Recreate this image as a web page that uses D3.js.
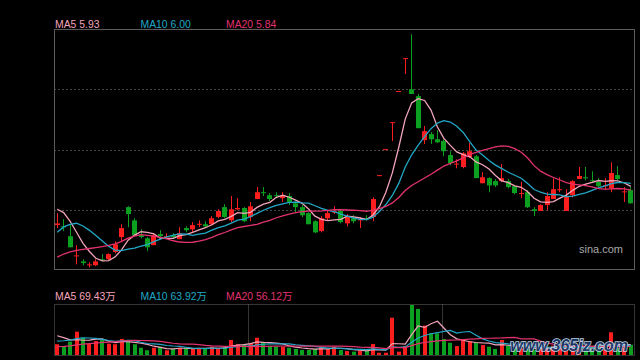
<!DOCTYPE html>
<html>
<head>
<meta charset="utf-8">
<script src="https://cdn.jsdelivr.net/npm/d3@7/dist/d3.min.js"></script>
<style>
body { margin: 0; background: #000; }
svg { display: block; font-family: "Liberation Sans", Arial, "Noto Sans CJK SC", sans-serif; }
</style>
</head>
<body>
<svg id="kline_view" width="640" height="360"></svg>
<script>
// closes before the first visible day, only used for the moving averages
let prev_close = [3.48, 3.53, 3.58, 3.63, 3.67, 3.72, 3.77, 3.77, 3.81, 3.77,
	3.72, 3.91, 4.02, 4.77, 5.10, 5.36, 5.50, 5.59, 5.41];

let open_px = [5.01, 4.98, 4.75, 4.28, 4.16, 4.07, 4.07, 4.21, 4.21, 4.38,
	4.73, 5.43, 5.12, 4.77, 4.70, 4.54, 4.80, 4.73, 4.77, 4.68,
	4.94, 4.91, 5.02, 5.03, 5.03, 5.20, 5.43, 5.12, 5.38, 5.41,
	5.20, 5.62, 5.78, 5.71, 5.71, 5.64, 5.69, 5.52, 5.43, 5.29,
	5.10, 4.87, 5.17, 5.30, 5.34, 5.05, 5.17, 5.12, 5.17, 5.20,
	6.18, 6.79, 7.42, 8.15, 8.92, 8.19, 8.03, 7.00, 7.14, 7.02,
	6.98, 6.65, 6.43, 6.37, 6.60, 6.62, 5.99, 6.11, 6.04, 6.04,
	6.04, 5.92, 5.74, 5.78, 5.38, 5.34, 5.48, 5.62, 5.83, 5.34,
	5.71, 6.09, 6.13, 6.06, 6.02, 5.92, 5.87, 6.18, 5.78, 5.83];

let high_px = [5.29, 5.15, 5.01, 4.54, 4.21, 4.14, 4.21, 4.33, 4.35, 4.63,
	5.03, 5.45, 5.17, 4.91, 4.73, 4.82, 4.89, 4.82, 4.82, 4.96,
	4.98, 5.08, 5.12, 5.10, 5.22, 5.38, 5.50, 5.69, 5.64, 5.43,
	5.55, 5.90, 5.90, 5.76, 5.78, 5.78, 5.76, 5.57, 5.48, 5.31,
	5.12, 5.22, 5.36, 5.45, 5.38, 5.27, 5.24, 5.20, 5.24, 5.66,
	6.18, 6.79, 7.42, 8.15, 8.92, 9.48, 8.08, 7.33, 7.19, 7.23,
	7.02, 6.74, 6.55, 6.72, 6.93, 6.65, 6.25, 6.13, 6.09, 6.44,
	6.09, 5.94, 6.02, 5.83, 5.43, 5.50, 5.78, 6.11, 6.13, 5.85,
	6.06, 6.37, 6.37, 6.27, 6.11, 6.11, 6.48, 6.39, 5.90, 5.90];

let low_px = [4.94, 4.87, 4.49, 4.09, 4.07, 4.02, 4.05, 4.16, 4.19, 4.35,
	4.63, 4.96, 4.77, 4.70, 4.40, 4.54, 4.73, 4.68, 4.70, 4.68,
	4.84, 4.84, 4.96, 4.96, 5.01, 5.17, 5.17, 5.08, 5.36, 5.08,
	5.10, 5.62, 5.69, 5.57, 5.64, 5.55, 5.48, 5.29, 5.20, 5.03,
	4.82, 4.84, 5.12, 5.27, 5.05, 4.98, 5.05, 4.94, 5.12, 5.10,
	6.18, 6.79, 6.98, 8.15, 8.55, 8.08, 7.28, 6.91, 6.91, 6.93,
	6.62, 6.41, 6.34, 6.34, 6.58, 6.11, 5.99, 5.78, 5.90, 6.02,
	5.87, 5.73, 5.64, 5.41, 5.22, 5.34, 5.36, 5.62, 5.78, 5.34,
	5.66, 6.09, 6.06, 6.02, 5.90, 5.83, 5.78, 6.06, 5.55, 5.52];

let close_px = [5.05, 4.96, 4.49, 4.30, 4.12, 4.09, 4.16, 4.19, 4.33, 4.56,
	4.94, 5.27, 4.77, 4.73, 4.49, 4.77, 4.75, 4.75, 4.73, 4.82,
	4.89, 5.01, 5.04, 4.98, 5.17, 5.34, 5.20, 5.38, 5.41, 5.10,
	5.45, 5.78, 5.76, 5.62, 5.69, 5.69, 5.55, 5.43, 5.24, 5.03,
	4.84, 5.17, 5.29, 5.33, 5.08, 5.22, 5.10, 5.15, 5.15, 5.62,
	6.18, 6.79, 7.42, 8.15, 8.92, 8.08, 7.28, 7.21, 7.02, 6.95,
	6.74, 6.46, 6.45, 6.69, 6.74, 6.11, 6.13, 5.94, 5.94, 6.11,
	5.90, 5.76, 5.76, 5.43, 5.34, 5.48, 5.69, 5.85, 5.85, 5.69,
	6.04, 6.16, 6.11, 6.04, 5.92, 5.94, 6.23, 6.09, 5.80, 5.52];

// volume in 万 shares
let prev_volume = [20, 18, 15, 18, 16, 20, 17, 19, 18, 19,
	40, 50, 55, 60, 80, 120, 160, 150, 134];

let volume = [71, 59, 88, 154, 114, 73, 92, 99, 75, 71,
	106, 92, 71, 48, 31, 48, 55, 31, 40, 48,
	48, 40, 44, 40, 55, 44, 55, 99, 71, 71,
	77, 114, 84, 61, 55, 55, 48, 40, 33, 33,
	40, 55, 40, 55, 33, 26, 22, 28, 28, 73,
	15, 15, 246, 22, 59, 330, 304, 194, 143, 143,
	106, 81, 59, 99, 92, 81, 66, 55, 40, 99,
	61, 48, 44, 40, 35, 40, 50, 62, 42, 61,
	62, 55, 50, 58, 67, 35, 150, 45, 50, 67];

let ma_periods = [5, 10, 20];
let ma_names = ['MA5', 'MA10', 'MA20'];
let ma_last = ['5.93', '6.00', '5.84'];
let vol_ma_last = ['69.43万', '63.92万', '56.12万'];
let vol_dividers = [30, 60];

let up_color = '#fa1e1e',
	down_color = '#0ca020',
	ma_colors = ['#f2a4ba', '#22a8c6', '#e2336f'],
	border_color = '#5c5c5c',
	grid_color = '#474747';

let main_box = {left: 54, right: 634, top: 29.5, bottom: 269.5};
let vol_box = {left: 54, right: 634, top: 304.5, bottom: 355.5};

function moving_average(values, prev, n) {
	let all = prev.concat(values);
	let off = prev.length;
	return values.map((v, i) => d3.mean(all.slice(off + i - n + 1, off + i + 1)));
}

function candle_color(i) {
	if (close_px[i] > open_px[i]) return up_color;
	if (close_px[i] < open_px[i]) return down_color;
	let pc = i > 0 ? close_px[i - 1] : prev_close[prev_close.length - 1];
	return close_px[i] >= pc ? up_color : down_color;
}

let view = d3.select('#kline_view');
let n = close_px.length;

let x = d3.scaleBand()
	.domain(d3.range(n))
	.range([main_box.left, main_box.right]);
let cx = i => x(i) + x.bandwidth() / 2;

let price_domain = [3.97, 9.59];
let y = d3.scaleLinear()
	.domain(price_domain)
	.range([main_box.bottom, main_box.top]);

let vol_y = d3.scaleLinear()
	.domain([0, d3.max(volume)])
	.range([vol_box.bottom - 0.5, vol_box.top + 0.5]);

view.append('rect')
	.attr('width', 640)
	.attr('height', 360)
	.attr('fill', '#000');

// price grid: quarters of the price range
let grid_vals = d3.range(1, 4).map(k => price_domain[0] + k * (price_domain[1] - price_domain[0]) / 4);
view.selectAll('.grid-line')
	.data(grid_vals)
	.enter().append('line')
	.attr('class', 'grid-line')
	.attr('x1', main_box.left)
	.attr('x2', main_box.right)
	.attr('y1', d => Math.round(y(d)) + 0.5)
	.attr('y2', d => Math.round(y(d)) + 0.5)
	.attr('stroke', grid_color)
	.attr('stroke-width', 1)
	.attr('stroke-dasharray', '2,2');

view.append('rect')
	.attr('x', main_box.left + 0.5)
	.attr('y', main_box.top)
	.attr('width', main_box.right - main_box.left)
	.attr('height', main_box.bottom - main_box.top)
	.attr('fill', 'none')
	.attr('stroke', border_color);

view.append('text')
	.attr('x', 623)
	.attr('y', 253)
	.attr('text-anchor', 'end')
	.attr('font-size', 11)
	.attr('fill', '#a8a8a8')
	.text('sina.com');

// candles
let candles = view.selectAll('.candle')
	.data(d3.range(n))
	.enter().append('g')
	.attr('class', 'candle');

candles.append('rect')
	.attr('x', i => Math.round(cx(i) - 2.5) + 2)
	.attr('y', i => y(high_px[i]))
	.attr('width', 1)
	.attr('height', i => Math.max(1, y(low_px[i]) - y(high_px[i])))
	.attr('fill', i => candle_color(i));

candles.append('rect')
	.attr('x', i => Math.round(cx(i) - 2.5))
	.attr('y', i => y(Math.max(open_px[i], close_px[i])))
	.attr('width', 5)
	.attr('height', i => Math.max(1, Math.abs(y(open_px[i]) - y(close_px[i]))))
	.attr('fill', i => candle_color(i));

// price moving averages
ma_periods.forEach((p, k) => {
	let ma = moving_average(close_px, prev_close, p);
	view.append('path')
		.datum(ma)
		.attr('fill', 'none')
		.attr('stroke', ma_colors[k])
		.attr('stroke-width', 1.3)
		.attr('d', d3.line().x((d, i) => cx(i)).y(d => y(d)));

	view.append('text')
		.attr('x', 55 + k * 85.5)
		.attr('y', 28)
		.attr('font-size', 10.4)
		.attr('fill', ma_colors[k])
		.text(ma_names[k] + ' ' + ma_last[k]);
});

// volume panel
view.append('rect')
	.attr('x', vol_box.left + 0.5)
	.attr('y', vol_box.top)
	.attr('width', vol_box.right - vol_box.left)
	.attr('height', vol_box.bottom - vol_box.top)
	.attr('fill', 'none')
	.attr('stroke', '#6a6a6a')
	.attr('stroke-dasharray', '1,1');

view.selectAll('.vol-divider')
	.data(vol_dividers)
	.enter().append('line')
	.attr('class', 'vol-divider')
	.attr('x1', i => Math.round(x(i)) + 1.5)
	.attr('x2', i => Math.round(x(i)) + 1.5)
	.attr('y1', vol_box.top)
	.attr('y2', vol_box.bottom)
	.attr('stroke', '#6a6a6a')
	.attr('stroke-dasharray', '1,1');

view.selectAll('.vol-bar')
	.data(d3.range(n))
	.enter().append('rect')
	.attr('class', 'vol-bar')
	.attr('x', i => Math.round(cx(i) - 2))
	.attr('y', i => vol_y(volume[i]))
	.attr('width', 4)
	.attr('height', i => vol_y(0) - vol_y(volume[i]))
	.attr('fill', i => candle_color(i));

ma_periods.forEach((p, k) => {
	let ma = moving_average(volume, prev_volume, p);
	view.append('path')
		.datum(ma)
		.attr('fill', 'none')
		.attr('stroke', ma_colors[k])
		.attr('stroke-width', 1.2)
		.attr('d', d3.line().x((d, i) => cx(i)).y(d => vol_y(d)));

	view.append('text')
		.attr('x', 55 + k * 85.5)
		.attr('y', 300)
		.attr('font-size', 10.4)
		.attr('fill', ma_colors[k])
		.text(ma_names[k] + ' ' + vol_ma_last[k]);
});

// site watermark over the volume panel
view.append('text')
	.attr('x', 628)
	.attr('y', 351)
	.attr('text-anchor', 'end')
	.attr('font-size', 16)
	.attr('font-weight', 'bold')
	.attr('font-style', 'italic')
	.attr('fill', '#1d3a6c')
	.attr('stroke', '#cfe0f2')
	.attr('stroke-width', 1.6)
	.attr('paint-order', 'stroke')
	.attr('opacity', 0.92)
	.text('www.365jz.com');
</script>
</body>
</html>
